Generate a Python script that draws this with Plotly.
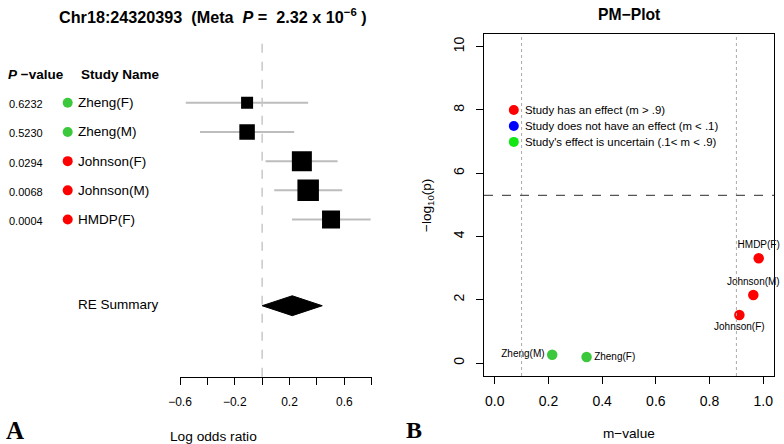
import plotly.graph_objects as go

# ---------------- data ----------------
studies = ["Zheng(F)", "Zheng(M)", "Johnson(F)", "Johnson(M)", "HMDP(F)"]
p_labels = ["0.6232", "0.5230", "0.0294", "0.0068", "0.0004"]
log_or = [-0.11, -0.11, 0.29, 0.336, 0.503]
ci_low = [-0.558, -0.454, 0.025, 0.088, 0.218]
ci_high = [0.336, 0.234, 0.551, 0.585, 0.792]
re_est, re_low, re_high = 0.22, 0.0, 0.439
m_values = [0.342, 0.214, 0.911, 0.963, 0.983]
neg_log_p = [0.19, 0.26, 1.52, 2.15, 3.31]
threshold = 5.3
forest_major = [-0.6, -0.2, 0.2, 0.6]
forest_all_ticks = [-0.6, -0.4, -0.2, 0.0, 0.2, 0.4, 0.6, 0.8]
forest_ticktext = ["\u22120.6", "\u22120.2", "0.2", "0.6"]
pm_xticks = [0.0, 0.2, 0.4, 0.6, 0.8, 1.0]
pm_yticks = [0, 2, 4, 6, 8, 10]
legend_labels = ["Study has an effect (m > .9)",
                 "Study does not have an effect (m < .1)",
                 "Study's effect is uncertain (.1< m < .9)"]

# ---------------- style ----------------
W, H = 784, 444
FONT = "Liberation Sans, Arial, Helvetica, sans-serif"
RED, BLUE, GREEN, LGREEN = "#FF0000", "#0000FF", "#3CC83C", "#14E614"
box_px = [12, 15.5, 20, 21.5, 18]
rows = [1, 2, 3, 4, 5]
re_row = 7.95


def px(x):
    return x / W


def py(y):
    return 1 - y / H


def mcolor(m):
    if m > 0.9:
        return RED
    if m < 0.1:
        return BLUE
    return GREEN


fig = go.Figure()

# CI lines
for i in range(len(studies)):
    fig.add_trace(go.Scatter(x=[ci_low[i], ci_high[i]], y=[rows[i], rows[i]], mode="lines",
                             line=dict(color="#BDBDBD", width=2), xaxis="x", yaxis="y",
                             hoverinfo="skip", showlegend=False))
# squares
fig.add_trace(go.Scatter(x=log_or, y=rows, mode="markers",
                         marker=dict(symbol="square", size=box_px, color="#000000", opacity=1,
                                     line=dict(width=0, color="#000000")),
                         xaxis="x", yaxis="y", showlegend=False))
# summary diamond
dh = 0.34
fig.add_trace(go.Scatter(x=[re_low, re_est, re_high, re_est, re_low],
                         y=[re_row, re_row - dh, re_row, re_row + dh, re_row],
                         mode="lines", fill="toself", fillcolor="black",
                         line=dict(color="black", width=1), xaxis="x", yaxis="y", showlegend=False))
# colored dots beside names (pixel-based helper axis)
fig.add_trace(go.Scatter(x=[67.7] * len(studies), y=rows, mode="markers",
                         marker=dict(size=10, color=[mcolor(m) for m in m_values]),
                         xaxis="x3", yaxis="y", showlegend=False, cliponaxis=False))

# PM plot points
fig.add_trace(go.Scatter(x=m_values, y=neg_log_p, mode="markers+text", text=studies,
                         textposition=["middle right", "middle left", "bottom center", "top center", "top center"],
                         textfont=dict(family=FONT, size=10, color="black"),
                         marker=dict(size=10.5, color=[mcolor(m) for m in m_values]),
                         xaxis="x2", yaxis="y2", showlegend=False, cliponaxis=False))
# legend markers
fig.add_trace(go.Scatter(x=[0.071] * 3, y=[8.0, 7.49, 6.99], mode="markers",
                         marker=dict(size=10, color=[RED, BLUE, LGREEN]),
                         xaxis="x2", yaxis="y2", showlegend=False))

annotations = []
for lbl, yy in zip(legend_labels, [8.0, 7.49, 6.99]):
    annotations.append(dict(x=0.106, y=yy, xref="x2", yref="y2", text=lbl, showarrow=False,
                            xanchor="left", yanchor="middle", font=dict(family=FONT, size=11.4, color="black")))

for i in range(len(studies)):
    annotations.append(dict(x=6.5, y=rows[i] + 0.05, xref="x3", yref="y", text=p_labels[i], showarrow=False,
                            xanchor="left", yanchor="middle", font=dict(family=FONT, size=11, color="black")))
    annotations.append(dict(x=75.5, y=rows[i], xref="x3", yref="y", text=studies[i], showarrow=False,
                            xanchor="left", yanchor="middle", font=dict(family=FONT, size=13.5, color="black")))
annotations += [
    dict(x=6, y=0.05, xref="x3", yref="y", text="<b><i>P</i> \u2212value</b>", showarrow=False,
         xanchor="left", yanchor="middle", font=dict(family=FONT, size=13.5, color="black")),
    dict(x=78.5, y=0.05, xref="x3", yref="y", text="<b>Study Name</b>", showarrow=False,
         xanchor="left", yanchor="middle", font=dict(family=FONT, size=13.5, color="black")),
    dict(x=76, y=re_row - 0.03, xref="x3", yref="y", text="RE Summary", showarrow=False,
         xanchor="left", yanchor="middle", font=dict(family=FONT, size=13.5, color="black")),
    dict(x=px(213), y=py(16), xref="paper", yref="paper",
         text="<b>Chr18:24320393\u00a0\u00a0(Meta\u00a0\u00a0<i>P</i>\u00a0=\u00a0\u00a02.32 x 10<sup>\u22126</sup>\u00a0)</b>",
         showarrow=False, xanchor="center", yanchor="middle", font=dict(family=FONT, size=16.2, color="black")),
    dict(x=px(213), y=py(436), xref="paper", yref="paper", text="Log odds ratio", showarrow=False,
         xanchor="center", yanchor="middle", font=dict(family=FONT, size=13.7, color="black")),
    dict(x=px(15), y=py(430), xref="paper", yref="paper", text="<b>A</b>", showarrow=False,
         xanchor="center", yanchor="middle", font=dict(family="Liberation Serif, Times New Roman, serif", size=25, color="black")),
    dict(x=px(414), y=py(430), xref="paper", yref="paper", text="<b>B</b>", showarrow=False,
         xanchor="center", yanchor="middle", font=dict(family="Liberation Serif, Times New Roman, serif", size=24, color="black")),
    dict(x=px(629.5), y=py(14), xref="paper", yref="paper", text="<b>PM\u2212Plot</b>", showarrow=False,
         xanchor="center", yanchor="middle", font=dict(family=FONT, size=15.7, color="black")),
    dict(x=px(629), y=py(433), xref="paper", yref="paper", text="m\u2212value", showarrow=False,
         xanchor="center", yanchor="middle", font=dict(family=FONT, size=13.6, color="black")),
    dict(x=px(427), y=py(205), xref="paper", yref="paper", text="\u2212log<sub>10</sub>(p)", showarrow=False,
         textangle=-90, xanchor="center", yanchor="middle", font=dict(family=FONT, size=13.6, color="black")),
]

shapes = [
    dict(type="line", xref="x", yref="y domain", x0=0, x1=0, y0=0, y1=1,
         line=dict(color="#C8C8C8", width=1.5, dash="dash")),
    dict(type="line", xref="x2", yref="y2 domain", x0=0.1, x1=0.1, y0=0, y1=1,
         line=dict(color="#AAAAAA", width=1, dash="dot")),
    dict(type="line", xref="x2", yref="y2 domain", x0=0.9, x1=0.9, y0=0, y1=1,
         line=dict(color="#AAAAAA", width=1, dash="dot")),
    dict(type="line", xref="x2 domain", yref="y2", x0=0, x1=1, y0=threshold, y1=threshold,
         line=dict(color="#555555", width=1.2, dash="dash")),
]

axis_common = dict(showgrid=False, zeroline=False, linecolor="black", tickcolor="black",
                   ticks="outside", ticklen=7, tickwidth=1, automargin=False)

fig.update_layout(
    template="none",
    width=W, height=H, margin=dict(l=0, r=0, t=0, b=0, pad=0), autosize=False,
    paper_bgcolor="white", plot_bgcolor="rgba(0,0,0,0)", showlegend=False,
    font=dict(family=FONT, color="black"),
    xaxis=dict(domain=[px(180), px(371.7)], range=[-0.6, 0.8], anchor="y",
               showline=True, tickvals=forest_major, ticktext=forest_ticktext,
               minor=dict(tickvals=forest_all_ticks, ticks="outside", ticklen=7, tickcolor="black", showgrid=False),
               tickfont=dict(size=12, family=FONT), ticklabelstandoff=7, **axis_common),
    yaxis=dict(domain=[py(376.7), py(40)], range=[10.38, -1.147], visible=False, anchor="x", automargin=False),
    xaxis3=dict(domain=[0, 1], range=[0, W], visible=False, anchor="y", automargin=False),
    xaxis2=dict(domain=[px(484), px(774)], range=[-0.04, 1.04], anchor="y2",
                showline=True, mirror=True, tickvals=pm_xticks,
                tickformat=".1f", tickfont=dict(size=14, family=FONT), ticklabelstandoff=5,
                **axis_common),
    yaxis2=dict(domain=[py(376), py(34)], range=[-0.41, 10.4], anchor="x2",
                showline=True, mirror=True, tickvals=pm_yticks, tickangle=-90,
                tickfont=dict(size=14, family=FONT), ticklabelstandoff=6, **axis_common),
    annotations=annotations, shapes=shapes,
)

fig.write_html("out.html", config={"displayModeBar": False},
               post_script="document.body.style.margin='0';document.documentElement.style.margin='0';")
